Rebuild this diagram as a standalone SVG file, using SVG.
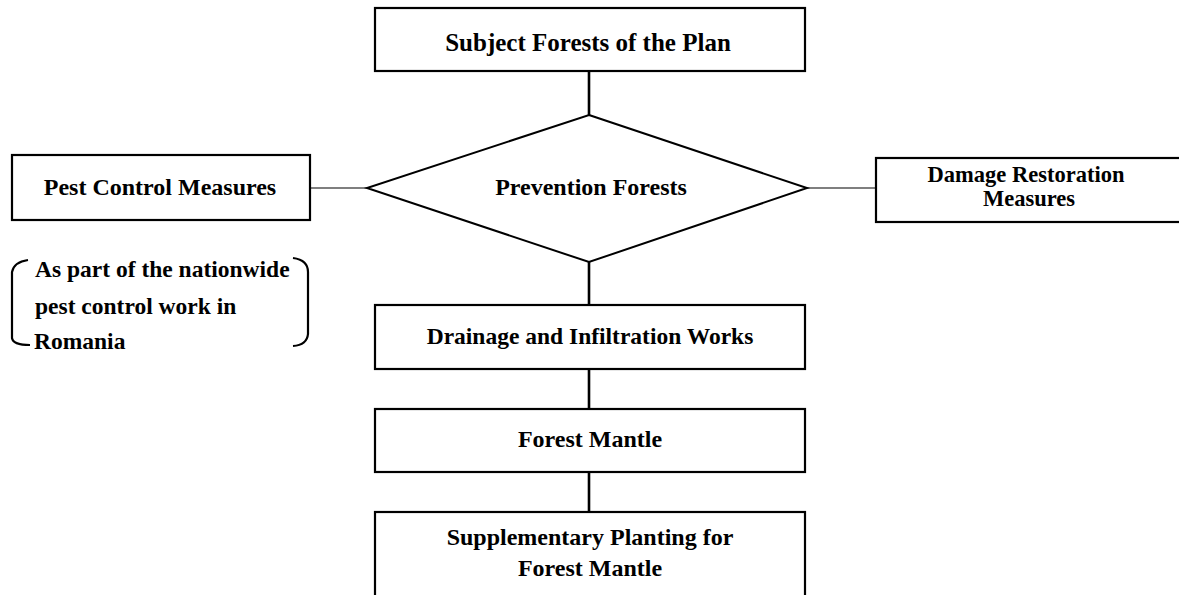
<svg xmlns="http://www.w3.org/2000/svg" width="1179" height="595" viewBox="0 0 1179 595">
<style>
.box{fill:#fff;stroke:#000;stroke-width:2.2}
.dia{fill:#fff;stroke:#000;stroke-width:2}
.t{font-family:"Liberation Serif","Times New Roman",serif;font-weight:bold;font-size:24px;fill:#000;text-anchor:middle}
.tl{font-family:"Liberation Serif","Times New Roman",serif;font-weight:bold;font-size:23.5px;fill:#000}
.v{stroke:#000;stroke-width:2.6;fill:none}
.h{stroke:#000;stroke-width:1.2;fill:none}
.br{stroke:#000;stroke-width:2.2;fill:none}
</style>
<rect width="1179" height="595" fill="#fff"/>
<g id="connectors">
<line class="v" x1="589" y1="71" x2="589" y2="115"/>
<line class="v" x1="589" y1="262" x2="589" y2="305"/>
<line class="v" x1="589" y1="369" x2="589" y2="409"/>
<line class="v" x1="589" y1="472" x2="589" y2="512"/>
<line class="h" x1="310" y1="188" x2="367" y2="188"/>
<line class="h" x1="807" y1="188" x2="876" y2="188"/>
</g>
<g id="subject">
<rect class="box" x="375" y="8" width="430" height="63"/>
<text class="t" x="588" y="51" style="font-size:25px">Subject Forests of the Plan</text>
</g>
<g id="prevention">
<polygon class="dia" points="589,115 807,188 589,262 367,188"/>
<text class="t" x="591" y="195">Prevention Forests</text>
</g>
<g id="pest">
<rect class="box" x="12" y="155" width="298" height="65"/>
<text class="t" x="160" y="195">Pest Control Measures</text>
</g>
<g id="damage">
<rect class="box" x="876" y="158" width="306" height="64"/>
<text class="t" x="1026" y="182" style="font-size:22.5px">Damage Restoration</text>
<text class="t" x="1029" y="206" style="font-size:22.5px">Measures</text>
</g>
<g id="note">
<path class="br" d="M28,260 Q14,262 12,272 L12,338 Q13,345 30,345"/>
<path class="br" d="M293,258 Q308,260 308,272 L308,334 Q307,345 293,346"/>
<text class="tl" x="35" y="277">As part of the nationwide</text>
<text class="tl" x="35" y="314">pest control work in</text>
<text class="tl" x="34" y="349">Romania</text>
</g>
<g id="drainage">
<rect class="box" x="375" y="305" width="430" height="64"/>
<text class="t" x="590" y="344" style="font-size:23.5px">Drainage and Infiltration Works</text>
</g>
<g id="mantle">
<rect class="box" x="375" y="409" width="430" height="63"/>
<text class="t" x="590" y="447">Forest Mantle</text>
</g>
<g id="supplementary">
<rect class="box" x="375" y="512" width="430" height="95"/>
<text class="t" x="590" y="545">Supplementary Planting for</text>
<text class="t" x="590" y="576">Forest Mantle</text>
</g>
</svg>
